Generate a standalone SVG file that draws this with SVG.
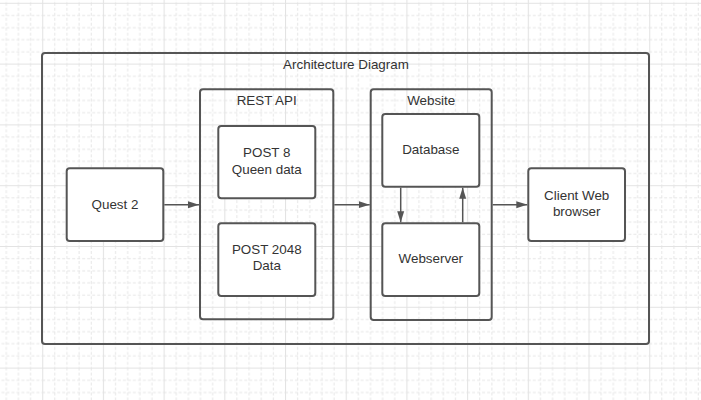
<svg xmlns="http://www.w3.org/2000/svg" width="701" height="400" viewBox="0 0 701 400">
<defs>
<pattern id="grid" patternUnits="userSpaceOnUse" x="42.2" y="2.8" width="60.7" height="60.8">
<g stroke="#e6e6e6" stroke-width="1" stroke-dasharray="3 2" fill="none">
<line x1="12.64" y1="0" x2="12.64" y2="60.8"/>
<line x1="24.78" y1="0" x2="24.78" y2="60.8"/>
<line x1="36.92" y1="0" x2="36.92" y2="60.8"/>
<line x1="49.06" y1="0" x2="49.06" y2="60.8"/>
<line x1="0" y1="12.66" x2="60.7" y2="12.66"/>
<line x1="0" y1="24.82" x2="60.7" y2="24.82"/>
<line x1="0" y1="36.98" x2="60.7" y2="36.98"/>
<line x1="0" y1="49.14" x2="60.7" y2="49.14"/>
</g>
<g stroke="#e3e3e3" stroke-width="1.2" fill="none">
<line x1="0.5" y1="0" x2="0.5" y2="60.8"/>
<line x1="0" y1="0.5" x2="60.7" y2="0.5"/>
</g>
</pattern>
<marker id="arr" markerWidth="11" markerHeight="8" refX="11" refY="4" orient="auto" markerUnits="userSpaceOnUse">
<path d="M0,0.5 L11,4 L0,7.5 z" fill="#555"/>
</marker>
<style>
.frame{fill:none;stroke:#555;stroke-width:2}
.box{fill:#fff;stroke:#555;stroke-width:2}
.t{font-family:"Liberation Sans",Arial,sans-serif;font-size:13.4px;fill:#333;text-anchor:middle}
.c{stroke:#555;stroke-width:1.5;fill:none;marker-end:url(#arr)}
</style>
</defs>
<rect width="701" height="400" fill="#fff"/>
<rect width="701" height="400" fill="url(#grid)"/>

<g id="architecture">
<rect class="frame" x="42" y="53" width="607" height="291" rx="3"/>
<text class="t" x="346" y="68.7">Architecture Diagram</text>
</g>

<g id="rest-api">
<rect class="frame" x="200" y="89.3" width="133.3" height="230" rx="3"/>
<text class="t" x="266.7" y="105">REST API</text>
</g>

<g id="post8">
<rect class="box" x="218.3" y="126" width="97" height="72.3" rx="3"/>
<text class="t" x="266.8" y="157.4">POST 8</text>
<text class="t" x="266.8" y="173.7">Queen data</text>
</g>

<g id="post2048">
<rect class="box" x="218.3" y="223.3" width="97" height="72.7" rx="3"/>
<text class="t" x="266.8" y="254">POST 2048</text>
<text class="t" x="266.8" y="270.4">Data</text>
</g>

<g id="quest2">
<rect class="box" x="66.7" y="168.3" width="96.6" height="72.7" rx="3"/>
<text class="t" x="115" y="209">Quest 2</text>
</g>

<g id="website">
<rect class="frame" x="370.7" y="89.3" width="121" height="230.7" rx="3"/>
<text class="t" x="431.2" y="105">Website</text>
</g>

<g id="database">
<rect class="box" x="382.3" y="114" width="97" height="72.7" rx="3"/>
<text class="t" x="430.8" y="154">Database</text>
</g>

<g id="webserver">
<rect class="box" x="382.3" y="223.3" width="97" height="72.7" rx="3"/>
<text class="t" x="430.8" y="263">Webserver</text>
</g>

<g id="client">
<rect class="box" x="528.3" y="168.3" width="96.7" height="72.7" rx="3"/>
<text class="t" x="576.7" y="199.7">Client Web</text>
<text class="t" x="576.7" y="215.7">browser</text>
</g>

<g id="connectors">
<line class="c" x1="164.3" y1="204.7" x2="199" y2="204.7"/>
<line class="c" x1="334.3" y1="204.7" x2="369.7" y2="204.7"/>
<line class="c" x1="492.7" y1="204.7" x2="527.3" y2="204.7"/>
<line class="c" x1="400.7" y1="187.7" x2="400.7" y2="222.3"/>
<line class="c" x1="462.7" y1="222.3" x2="462.7" y2="187.7"/>
</g>
</svg>
